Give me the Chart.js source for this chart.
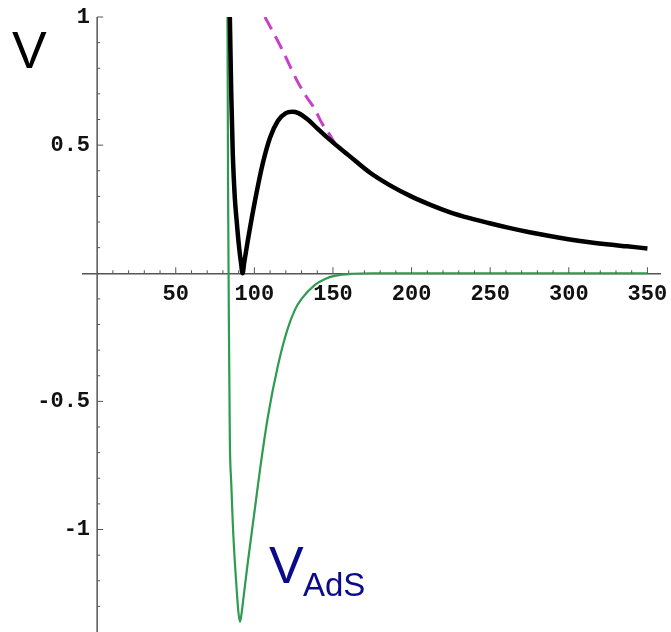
<!DOCTYPE html>
<html>
<head>
<meta charset="utf-8">
<script src="https://cdn.jsdelivr.net/npm/chart.js@4"></script>
<style>
  html, body { margin: 0; padding: 0; background: #fff; }
  #wrap { width: 671px; height: 632px; position: relative; }
</style>
</head>
<body>
<div id="wrap"><canvas id="canvas" width="671" height="632"></canvas></div>
<script>
// full potential V (black)
const fullR = [84.4, 85.3, 86.3, 87.5, 88.8, 90.3, 91.5, 92.5, 93.5, 95.9, 100.3, 105.4, 110, 115, 120, 124, 128, 134, 140, 145, 152, 160, 173.6, 186, 199.7, 212, 224.5, 237, 249, 262, 275, 287, 299.7, 312, 324, 337, 350];
const fullV = [1.0, 0.7, 0.46, 0.3, 0.2, 0.1, 0.04, 0.0, 0.04, 0.13, 0.28, 0.43, 0.53, 0.595, 0.625, 0.63, 0.625, 0.6, 0.565, 0.537, 0.5, 0.46, 0.392, 0.344, 0.30, 0.267, 0.238, 0.215, 0.196, 0.177, 0.16, 0.146, 0.133, 0.122, 0.113, 0.105, 0.097];
// asymptotic tail (magenta dashed)
const tailR = [106.7, 112, 117.5, 122.5, 127.7, 133, 138.5, 143, 148, 152, 160, 173.6, 186, 199.7, 212, 224.5, 237, 249, 262, 275, 287, 299.7, 312, 324, 337, 350];
const tailV = [1.0, 0.94, 0.875, 0.81, 0.745, 0.69, 0.64, 0.585, 0.54, 0.5, 0.46, 0.392, 0.344, 0.30, 0.267, 0.238, 0.215, 0.196, 0.177, 0.16, 0.146, 0.133, 0.122, 0.113, 0.105, 0.097];
// V_AdS (green)
const adsR = [82.9, 83.3, 83.8, 84.4, 85.3, 86.3, 87.5, 88.8, 89.8, 90.8, 91.8, 93.4, 96, 100.3, 103.5, 108.6, 115, 121, 126, 130, 138.5, 145, 151, 162, 175, 200, 250, 300, 350];
const adsV = [1.0, 0.3, -0.2, -0.65, -0.82, -0.98, -1.12, -1.24, -1.32, -1.36, -1.33, -1.25, -1.12, -0.92, -0.77, -0.56, -0.36, -0.22, -0.14, -0.10, -0.045, -0.022, -0.01, -0.002, 0, 0, 0, 0, 0];

const xTicks = [50, 100, 150, 200, 250, 300, 350];
const yTicks = [-1, -0.5, 0.5, 1];

function pts(xs, ys) {
  return xs.map((x, i) => ({x: x, y: ys[i]}));
}

const tickFont = {family: "'Liberation Mono', monospace", size: 22, weight: 'bold'};

// y axis line, small tick marks like Mathematica + the V labels
const extras = {
  id: 'extras',
  afterDatasetsDraw(chart) {
    const ctx = chart.ctx;
    const area = chart.chartArea;
    const xs = chart.scales.x, ys = chart.scales.y;
    const x0 = xs.getPixelForValue(0), y0 = ys.getPixelForValue(0);
    ctx.save();
    ctx.strokeStyle = '#555';
    ctx.lineWidth = 1.5;
    ctx.beginPath();
    ctx.moveTo(x0, area.top);
    ctx.lineTo(x0, area.bottom);
    ctx.stroke();

    ctx.lineWidth = 1;
    ctx.beginPath();
    for (let v = 10; v <= 350; v += 10) {
      const px = xs.getPixelForValue(v);
      const len = v % 50 === 0 ? 6 : 3;
      ctx.moveTo(px, y0);
      ctx.lineTo(px, y0 - len);
    }
    for (let k = -13; k <= 10; k++) {
      if (k === 0) continue;
      const py = ys.getPixelForValue(k / 10);
      const len = k % 5 === 0 ? 6 : 3;
      ctx.moveTo(x0, py);
      ctx.lineTo(x0 + len, py);
    }
    ctx.stroke();

    ctx.textBaseline = 'alphabetic';
    ctx.fillStyle = '#000';
    ctx.font = "52px 'Liberation Sans', Arial, sans-serif";
    ctx.fillText('V', 12, 68);
    ctx.fillStyle = '#0a0a8c';
    ctx.fillText('V', 269, 583);
    ctx.font = "33px 'Liberation Sans', Arial, sans-serif";
    ctx.fillText('AdS', 303, 596);
    ctx.restore();
  }
};

const ctx = document.getElementById('canvas');
new Chart(ctx, {
  type: 'line',
  data: {
    datasets: [
      {
        label: 'V',
        data: pts(fullR, fullV),
        borderColor: '#000',
        borderWidth: 4.5,
        pointRadius: 0,
        cubicInterpolationMode: 'monotone'
      },
      {
        label: 'tail',
        data: pts(tailR, tailV),
        borderColor: '#c83fc8',
        borderWidth: 3,
        borderDash: [14, 8],
        pointRadius: 0,
        cubicInterpolationMode: 'monotone'
      },
      {
        label: 'V_AdS',
        data: pts(adsR, adsV),
        borderColor: '#2e9b4f',
        borderWidth: 2.2,
        pointRadius: 0,
        cubicInterpolationMode: 'monotone'
      }
    ]
  },
  options: {
    responsive: false,
    animation: false,
    layout: { padding: { left: 83, right: 11, top: 17, bottom: 0 } },
    plugins: { legend: { display: false }, tooltip: { enabled: false } },
    scales: {
      x: {
        type: 'linear',
        min: -9,
        max: 358,
        position: { y: 0 },
        grid: { display: false, drawTicks: false },
        border: { display: true, color: '#555', width: 1.5 },
        ticks: { font: tickFont, color: '#111', padding: 8, maxRotation: 0, autoSkip: false },
        afterBuildTicks: (axis) => { axis.ticks = xTicks.map(v => ({value: v})); },
        afterFit: (axis) => { axis.paddingLeft = 0; axis.paddingRight = 0; }
      },
      y: {
        type: 'linear',
        min: -1.4,
        max: 1.0,
        // labels sit a few px left of the axis line (line drawn in plugin at x = 0)
        position: { x: -4.5 },
        grid: { display: false, drawTicks: false },
        border: { display: false },
        ticks: { font: tickFont, color: '#111', autoSkip: false, callback: (v) => String(v) },
        afterBuildTicks: (axis) => { axis.ticks = yTicks.map(v => ({value: v})); },
        afterFit: (axis) => { axis.paddingTop = 0; axis.paddingBottom = 0; }
      }
    }
  },
  plugins: [extras]
});
</script>
</body>
</html>
